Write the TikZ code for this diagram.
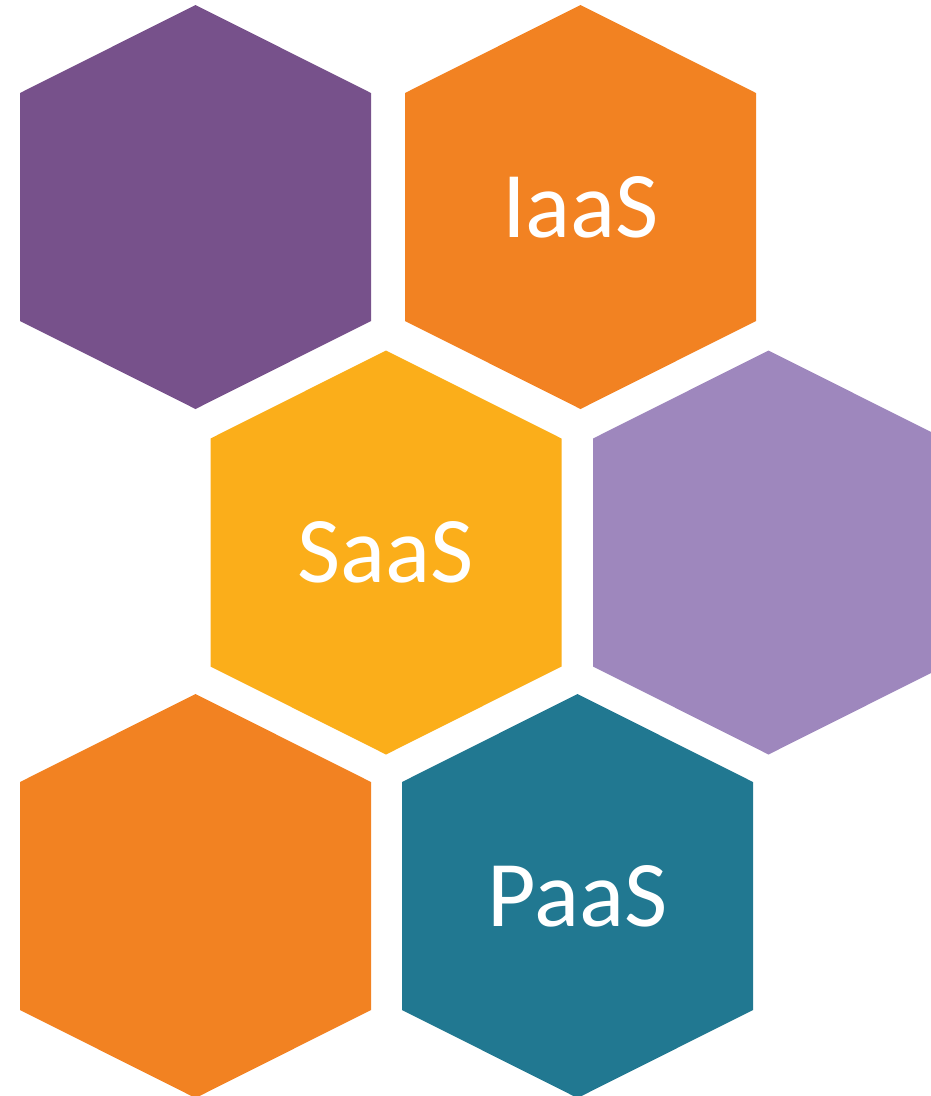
\documentclass[tikz,border=0pt]{standalone}
\usepackage{fontspec}
\setmainfont{Carlito}
\usetikzlibrary{positioning}

\definecolor{hexplum}{HTML}{77518B}
\definecolor{hexorange}{HTML}{F28222}
\definecolor{hexyellow}{HTML}{FBAE1A}
\definecolor{hexlilac}{HTML}{9E87BD}
\definecolor{hexteal}{HTML}{217891}

\tikzset{
    hexlabel/.style = {text = white, font = \fontsize{94}{94}\selectfont, inner sep = 0}
}

\begin{document}
\begin{tikzpicture}[x = 1pt, y = -1pt]

        % Page frame
        \clip (0,0) rectangle (931,1096);

        % Hexagon cells: centre x / centre y / colour / name / label
        \foreach \cx/\cy/\col/\nm/\txt in {
                195.5/207/hexplum/plum/,
                580.5/207/hexorange/iaas/IaaS,
                386/552.5/hexyellow/saas/SaaS,
                768.5/552.5/hexlilac/lilac/,
                195.5/896/hexorange/corner/,
                577.5/896/hexteal/paas/PaaS} {
            \fill[fill = \col] (\cx-175.5,\cy-114) -- (\cx,\cy-202) -- (\cx+175.5,\cy-114)
                -- (\cx+175.5,\cy+114) -- (\cx,\cy+202) -- (\cx-175.5,\cy+114) -- cycle;
            \node[hexlabel] (\nm) at (\cx,\cy) {\txt};
        }
    \end{tikzpicture}
\end{document}
